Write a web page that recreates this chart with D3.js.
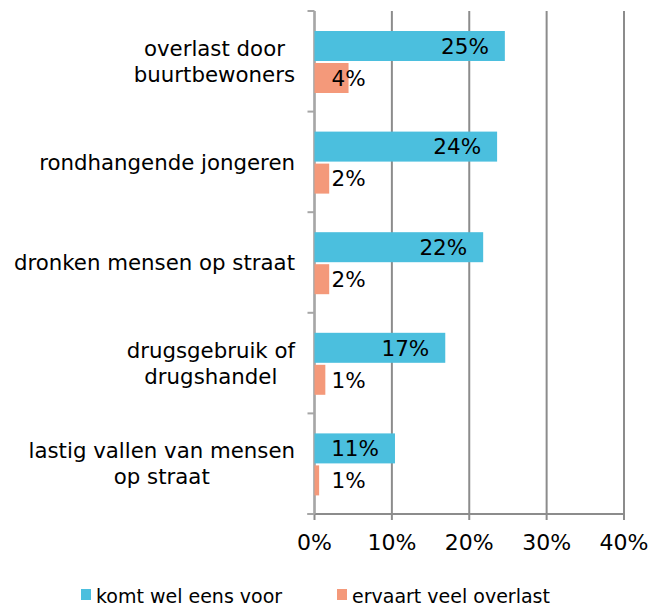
<!DOCTYPE html>
<meta charset="utf-8">
<style>
body { margin: 0; background: #fff; }
text { font-family: "DejaVu Sans", Verdana, sans-serif; fill: #000; }
</style>
<body>
<script src="https://cdn.jsdelivr.net/npm/d3@7"></script>
<script>

var categories = [
  ["overlast door", "buurtbewoners"],
  ["rondhangende jongeren"],
  ["dronken mensen op straat"],
  ["drugsgebruik of", "drugshandel"],
  ["lastig vallen van mensen", "op straat"]
];
var seriesNames = ["komt wel eens voor", "ervaart veel overlast"];
var komtVoor = [24.6, 23.6, 21.8, 16.9, 10.4];
var veelOverlast = [4.4, 1.9, 1.9, 1.4, 0.6];
var komtVoorLabels = ["25%", "24%", "22%", "17%", "11%"];
var overlastLabels = ["4%", "2%", "2%", "1%", "1%"];
var xTicks = [0, 10, 20, 30, 40];

var colors = ["#4bbfde", "#f4997a"];
var gridColor = "#8c8c8c";

var width = 650, height = 610;
var margin = {top: 11, left: 314.5, right: 26, bottom: 96};

var svg = d3.select("body").append("svg")
    .attr("width", width)
    .attr("height", height);

var x = d3.scaleLinear()
    .domain([0, 40])
    .range([margin.left, width - margin.right]);

var y = d3.scaleBand()
    .domain(d3.range(categories.length))
    .range([margin.top, height - margin.bottom]);

var bandPad = 20, barH = 30, barGap = 2;

// gridlines (also serve as x ticks)
svg.selectAll(".grid")
    .data(xTicks)
  .enter().append("line")
    .attr("class", "grid")
    .attr("x1", function(d) { return x(d); })
    .attr("x2", function(d) { return x(d); })
    .attr("y1", margin.top)
    .attr("y2", height - margin.bottom + 6)
    .attr("stroke", gridColor)
    .attr("stroke-width", 2);

// bottom axis line
svg.append("line")
    .attr("x1", margin.left - 7)
    .attr("x2", x(40))
    .attr("y1", height - margin.bottom)
    .attr("y2", height - margin.bottom)
    .attr("stroke", gridColor)
    .attr("stroke-width", 2);

// y axis line with category boundary ticks
svg.append("line")
    .attr("x1", margin.left)
    .attr("x2", margin.left)
    .attr("y1", margin.top)
    .attr("y2", height - margin.bottom)
    .attr("stroke", "#a6a6a6")
    .attr("stroke-width", 2);

var bounds = d3.range(categories.length + 1).map(function(i) {
  return i < categories.length ? y(i) : y(i - 1) + y.bandwidth();
});
svg.selectAll(".ytick")
    .data(bounds)
  .enter().append("line")
    .attr("class", "ytick")
    .attr("x1", margin.left - 7)
    .attr("x2", margin.left)
    .attr("y1", function(d) { return d; })
    .attr("y2", function(d) { return d; })
    .attr("stroke", "#a6a6a6")
    .attr("stroke-width", 2);

// x tick labels
svg.selectAll(".xlab")
    .data(xTicks)
  .enter().append("text")
    .attr("class", "xlab")
    .attr("x", function(d) { return x(d); })
    .attr("y", 550)
    .attr("text-anchor", "middle")
    .style("font-size", "22px")
    .text(function(d) { return d + "%"; });

// bars
var rows = categories.map(function(c, i) {
  return {i: i, a: komtVoor[i], b: veelOverlast[i], la: komtVoorLabels[i], lb: overlastLabels[i]};
});

var g = svg.selectAll(".row")
    .data(rows)
  .enter().append("g")
    .attr("class", "row");

g.append("rect")
    .attr("x", x(0))
    .attr("y", function(d) { return y(d.i) + bandPad; })
    .attr("width", function(d) { return x(d.a) - x(0); })
    .attr("height", barH)
    .attr("fill", colors[0]);

g.append("rect")
    .attr("x", x(0))
    .attr("y", function(d) { return y(d.i) + bandPad + barH + barGap; })
    .attr("width", function(d) { return x(d.b) - x(0); })
    .attr("height", barH)
    .attr("fill", colors[1]);

g.append("text")
    .attr("x", function(d) { return x(d.a) - 16; })
    .attr("y", function(d) { return y(d.i) + bandPad + barH / 2; })
    .attr("dy", "0.36em")
    .attr("text-anchor", "end")
    .style("font-size", "21.5px")
    .text(function(d) { return d.la; });

g.append("text")
    .attr("x", x(0) + 17)
    .attr("y", function(d) { return y(d.i) + bandPad + barH * 1.5 + barGap; })
    .attr("dy", "0.36em")
    .attr("text-anchor", "start")
    .style("font-size", "21.5px")
    .text(function(d) { return d.lb; });

// category labels (lines centred, block right-aligned)
var labelRight = 295, lineH = 26;
categories.forEach(function(lines, i) {
  var cy = y(i) + y.bandwidth() / 2;
  var lg = svg.append("g");
  var texts = lines.map(function(t, k) {
    return lg.append("text")
        .attr("y", cy + (k - (lines.length - 1) / 2) * lineH)
        .attr("dy", "0.36em")
        .attr("text-anchor", "middle")
        .style("font-size", "21.3px")
        .text(t);
  });
  var maxW = d3.max(texts, function(t) { return t.node().getComputedTextLength(); });
  texts.forEach(function(t) { t.attr("x", labelRight - maxW / 2); });
});

// legend
var legendX = [81, 337];
var legend = svg.selectAll(".legend")
    .data(seriesNames)
  .enter().append("g")
    .attr("class", "legend")
    .attr("transform", function(d, i) { return "translate(" + legendX[i] + ",589)"; });

legend.append("rect")
    .attr("width", 10)
    .attr("height", 11)
    .attr("fill", function(d, i) { return colors[i]; });

legend.append("text")
    .attr("x", 15)
    .attr("y", 14)
    .style("font-size", "19px")
    .text(function(d) { return d; });

</script>
</body>
